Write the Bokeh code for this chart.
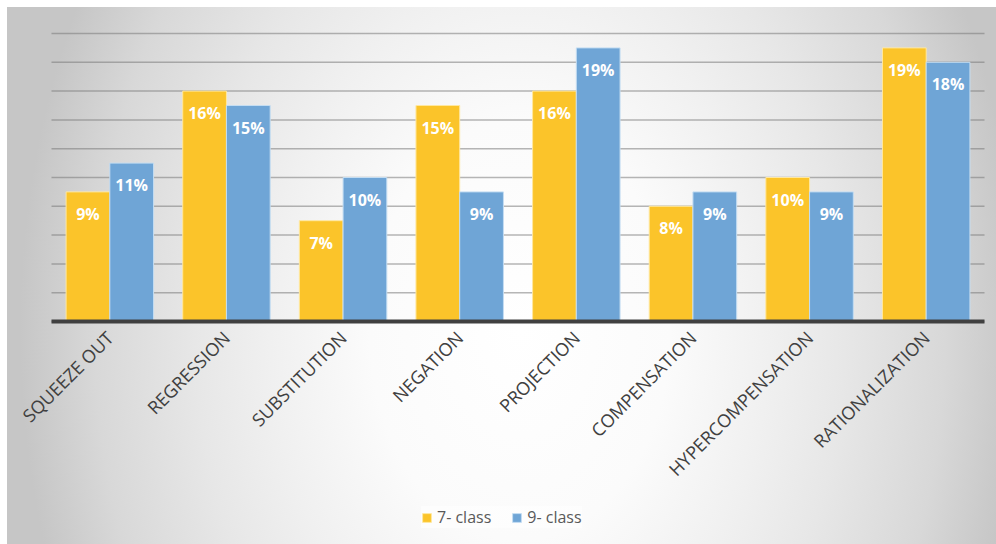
from bokeh.plotting import figure
from bokeh.models import ColumnDataSource, Legend, LegendItem, Range1d, FixedTicker
from bokeh.transform import dodge
from bokeh.core.properties import value
from bokeh.embed import file_html
from bokeh.resources import INLINE
import math

categories = ["SQUEEZE OUT", "REGRESSION", "SUBSTITUTION", "NEGATION",
              "PROJECTION", "COMPENSATION", "HYPERCOMPENSATION", "RATIONALIZATION"]
class7 = [9, 16, 7, 15, 16, 8, 10, 19]
class9 = [11, 15, 10, 9, 19, 9, 9, 18]
series_names = ["7- class", "9- class"]
y_ticks = [0, 2, 4, 6, 8, 10, 12, 14, 16, 18, 20]

n = len(categories)
centers = [i + 0.5 for i in range(n)]

src = ColumnDataSource(dict(
    x=centers,
    cat=categories,
    c7=class7,
    c9=class9,
    l7=[f"{v}%" for v in class7],
    l9=[f"{v}%" for v in class9],
))

# screen layout: categories occupy x = 51..984 px, 0 % at y = 321 px, 20 % at y = 33 px
px_x = (984 - 51) / n
px_y = (321 - 33) / 20
x_range = Range1d(-51 / px_x, n + 12 / px_x)
y_range = Range1d(-(544 - 321) / px_y, 20 + 6 / px_y)

p = figure(width=996, height=544, x_range=x_range, y_range=y_range,
           output_backend="svg", toolbar_location=None,
           min_border_left=0, min_border_right=0, min_border_top=27, min_border_bottom=0)

p.background_fill_alpha = 0
p.border_fill_alpha = 0
p.outline_line_color = None
p.styles = {"background": (
    "linear-gradient(#ffffff, #ffffff) 0 0 / 100% 7px no-repeat, "
    "linear-gradient(#ffffff, #ffffff) 0 0 / 7px 100% no-repeat, "
    "radial-gradient(ellipse 500px 700px at 520px 330px, #ffffff 0%, #fbfbfb 30%, "
    "#f0f0f0 50%, #e7e7e7 65%, #d8d8d8 85%, #c6c6c6 100%)")}

p.xgrid.visible = False
p.ygrid.visible = False
p.yaxis.visible = False

# horizontal gridlines limited to the category span
p.segment(x0=0, x1=n, y0=y_ticks, y1=y_ticks, line_color="#7a7a7a",
          line_alpha=0.55, line_width=1.5)

W = 0.375
b7 = p.vbar(x=dodge("x", -W / 2), top="c7", width=W, source=src,
            fill_color="#FBC42A", line_color="#FFE8A0", line_width=1)
b9 = p.vbar(x=dodge("x", W / 2), top="c9", width=W, source=src,
            fill_color="#6FA5D6", line_color="#C4DDF2", line_width=1)

for col, lab, off in (("c7", "l7", -W / 2), ("c9", "l9", W / 2)):
    p.text(x=dodge("x", off), y=col, text=lab, source=src,
           text_color="white", text_font=value("Open Sans"), text_font_style="bold",
           text_font_size="16px", text_align="center", text_baseline="middle", y_offset=22)

ax = p.xaxis[0]
ax.fixed_location = 0
ax.bounds = (0, n)
ax.ticker = FixedTicker(ticks=centers)
ax.major_label_overrides = {c: name for c, name in zip(centers, categories)}
ax.axis_line_color = "#404040"
ax.axis_line_width = 4
ax.major_tick_line_color = None
ax.minor_tick_line_color = None
ax.major_tick_out = 0
ax.major_tick_in = 0
ax.major_label_orientation = math.pi / 4
ax.major_label_text_font = "Open Sans"
ax.major_label_text_font_size = "18px"
ax.major_label_text_color = "#404040"
ax.major_label_standoff = 13

legend = Legend(items=[LegendItem(label=series_names[0], renderers=[b7]),
                       LegendItem(label=series_names[1], renderers=[b9])],
                orientation="horizontal", location=(421, 16))
legend.background_fill_color = "white"
legend.background_fill_alpha = 0.6
legend.border_line_color = None
legend.label_text_font = "Open Sans"
legend.label_text_font_size = "16px"
legend.label_text_color = "#595959"
legend.glyph_width = 11
legend.glyph_height = 11
legend.label_standoff = 5
legend.spacing = 20
legend.padding = 8
legend.margin = 0
legend.label_height = 20
p.add_layout(legend, "center")

open("out.html", "w").write(file_html(p, INLINE))
